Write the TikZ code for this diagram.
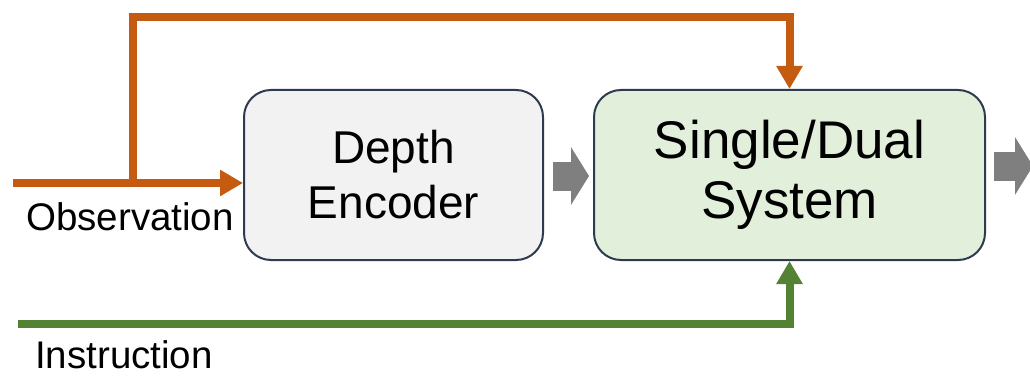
\documentclass[tikz,border=0pt]{standalone}
\usepackage{fontspec}
\setmainfont{Liberation Sans}
\usetikzlibrary{arrows.meta, calc}
\definecolor{corange}{HTML}{C55A11}
\definecolor{cgreen}{HTML}{548235}
\definecolor{cgrey}{HTML}{7F7F7F}
\definecolor{cedge}{HTML}{2E3A50}
\definecolor{cboxgrey}{HTML}{F2F2F2}
\definecolor{cboxgreen}{HTML}{E2EFDA}
\tikzset{
  box/.style={draw=cedge, fill=#1, line width=2pt, rounded corners=27pt, align=center, inner sep=0pt},
  wire/.style={draw=#1, line width=8pt, -{Triangle[length=23pt, width=25pt]}},
  blockarrow/.style={draw=cgrey, line width=29pt, -{Triangle[length=18pt, width=57pt]}},
  label/.style={font=\fontsize{38.5}{44}\selectfont, anchor=base west, inner sep=0pt},
}
\begin{document}
\begin{tikzpicture}[x=1pt, y=-1pt]
  \useasboundingbox (0,0) rectangle (1030,377);
  \node[box=cboxgrey, minimum width=299pt, minimum height=170pt,
    font=\fontsize{46}{55}\selectfont] (enc) at (393.5,175) {Depth\\Encoder};
  \node[box=cboxgreen, minimum width=391pt, minimum height=170pt,
    font=\fontsize{53}{60}\selectfont] (sys) at (789.5,175) {Single/Dual\\System};
  \node[label] (obslabel) at (26,230) {Observation};
  \node[label] (inslabel) at (35,368) {Instruction};
  % inputs
  \coordinate (obs) at (13,183);
  \coordinate (split) at (132.5,183);
  \coordinate (top) at (132.5,17);
  \coordinate (ins) at (18,323.5);
  \draw[wire=corange] (obs) -- (obs -| enc.west);
  \draw[wire=corange] (split) -- (top) -| (sys.north);
  \draw[wire=cgreen] (ins) -| (sys.south);
  % flow between blocks
  \coordinate (a1) at ($(enc.east)+(9,1)$);
  \coordinate (a2) at ($(sys.west)+(-4,1)$);
  \coordinate (a3) at ($(sys.east)+(8,-9)$);
  \coordinate (a4) at ($(sys.east)+(47,-9)$);
  \draw[blockarrow] (a1) -- (a2);
  \draw[blockarrow] (a3) -- (a4);
\end{tikzpicture}
\end{document}
